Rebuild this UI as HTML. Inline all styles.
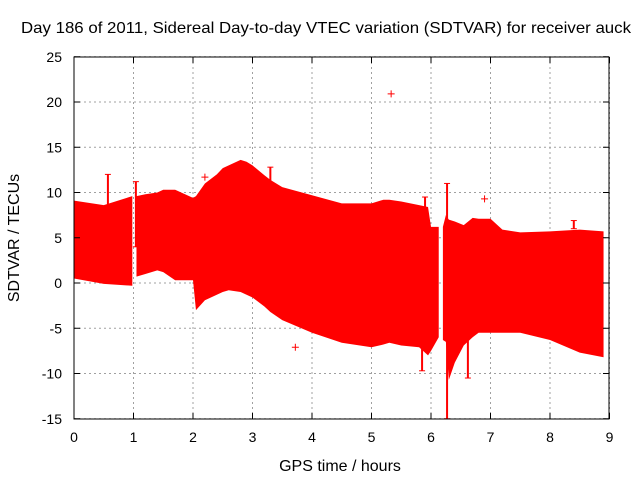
<!DOCTYPE html>
<html><head><meta charset="utf-8"><style>
body{margin:0;background:#fff}
svg text{font-family:"Liberation Sans",Arial,sans-serif;font-size:14px;fill:#000}
svg text.big{font-size:16px}
</style></head><body>
<svg id="c" width="640" height="480" xmlns="http://www.w3.org/2000/svg">
<text class="big" x="326" y="33" text-anchor="middle" textLength="610" lengthAdjust="spacingAndGlyphs">Day 186 of 2011, Sidereal Day-to-day VTEC variation (SDTVAR) for receiver auck</text>
<text class="big" x="340" y="471" text-anchor="middle">GPS time / hours</text>
<text class="big" transform="translate(19,238) rotate(-90)" text-anchor="middle">SDTVAR / TECUs</text>
<g id="grid"></g><g id="marks"></g><g id="axes"></g>
</svg>
<script>
const xTicks=[0,1,2,3,4,5,6,7,8,9];
const yTicks=[-15,-10,-5,0,5,10,15,20,25];
const seg1Times=[0,0.5,0.98];
const seg1Upper=[9.1,8.6,9.6];
const seg1Lower=[0.5,-0.1,-0.3];
const seg2Times=[1.05,1.2,1.4,1.5,1.7,2.0,2.05,2.2,2.4,2.5,2.6,2.8,2.9,3.0,3.2,3.3,3.5,4.0,4.5,5.0,5.2,5.3,5.5,5.8,5.95,6.0,6.13];
const seg2Upper=[9.6,9.8,10.0,10.3,10.3,9.4,9.6,11.0,12.0,12.7,13.0,13.6,13.4,13.0,11.9,11.4,10.6,9.7,8.8,8.8,9.2,9.2,9.0,8.6,8.4,6.2,6.2];
const seg2Lower=[0.7,1.0,1.4,1.2,0.3,0.3,-3.0,-1.9,-1.3,-1.0,-0.8,-1.0,-1.3,-1.6,-2.6,-3.2,-4.1,-5.5,-6.6,-7.1,-6.8,-6.6,-6.9,-7.1,-8.0,-7.5,-6.0];
const seg3Times=[6.2,6.25,6.3,6.4,6.55,6.7,6.8,7.0,7.2,7.5,8.0,8.5,8.9];
const seg3Upper=[6.2,7.5,7.0,6.8,6.4,7.2,7.1,7.1,5.9,5.6,5.7,5.9,5.7];
const seg3Lower=[-6.3,-6.5,-10.7,-8.8,-6.9,-6.0,-5.5,-5.5,-5.5,-5.5,-6.3,-7.7,-8.2];
const spikeTimes=[0.57,1.04,5.85,5.9,6.27,6.62,3.3,8.4];
const spikeLow=[5,4,-9.7,-7,-15,-10.5,10,6];
const spikeHigh=[12,11.2,6,9.5,11,0,12.8,6.9];
const ptTimes=[5.33,3.72,6.9,2.2];
const ptValues=[20.9,-7.1,9.3,11.7];
const X=t=>74+t*59.5, Y=v=>283-v*9.05;
const NS='http://www.w3.org/2000/svg';
function mk(tag,at,parent){const e=document.createElementNS(NS,tag);for(const k in at)e.setAttribute(k,at[k]);document.getElementById(parent).appendChild(e);return e;}
xTicks.forEach(t=>{
 const g=mk('line',{x1:X(t),x2:X(t),y1:57,y2:419,stroke:'#a0a0a0','stroke-dasharray':'2,3'},'grid');
 
 
 const tk=mk('text',{x:X(t),y:442,'text-anchor':'middle'},'axes');tk.textContent=t;
 
 
 mk('line',{x1:X(t),x2:X(t),y1:419,y2:413,stroke:'#000'},'axes');
 mk('line',{x1:X(t),x2:X(t),y1:57,y2:63,stroke:'#000'},'axes');
});
yTicks.forEach(v=>{
 const g=mk('line',{x1:74,x2:609,y1:Y(v),y2:Y(v),stroke:'#a0a0a0','stroke-dasharray':'2,3'},'grid');
 
 
 const tk=mk('text',{x:62,y:Y(v)+5,'text-anchor':'end'},'axes');tk.textContent=v;
 
 
 mk('line',{x1:74,x2:80,y1:Y(v),y2:Y(v),stroke:'#000'},'axes');
 mk('line',{x1:603,x2:609,y1:Y(v),y2:Y(v),stroke:'#000'},'axes');
});
const frame=mk('rect',{x:74,y:57,width:535,height:362,fill:'none',stroke:'#000'},'axes');


[[seg1Times,seg1Upper,seg1Lower],[seg2Times,seg2Upper,seg2Lower],[seg3Times,seg3Upper,seg3Lower]].forEach(([ts,up,lo])=>{
 const pts=ts.map((t,i)=>X(t)+','+Y(up[i])).concat(ts.map((t,i)=>X(t)+','+Y(lo[i])).reverse());
 const p=mk('polygon',{points:pts.join(' '),fill:'#ff0000'},'marks');
 
 
});
spikeTimes.forEach((t,i)=>{
 const l=mk('line',{x1:X(t),x2:X(t),y1:Y(spikeLow[i]),y2:Y(spikeHigh[i]),stroke:'#ff0000','stroke-width':2},'marks');
 
 
 mk('line',{x1:X(t)-3,x2:X(t)+3,y1:Y(spikeLow[i]),y2:Y(spikeLow[i]),stroke:'#ff0000'},'marks');
 mk('line',{x1:X(t)-3,x2:X(t)+3,y1:Y(spikeHigh[i]),y2:Y(spikeHigh[i]),stroke:'#ff0000'},'marks');
});
ptTimes.forEach((t,i)=>{
 const x=X(t),y=Y(ptValues[i]);
 const p=mk('path',{d:`M${x-3.5},${y}H${x+3.5}M${x},${y-3.5}V${y+3.5}`,stroke:'#ff0000','stroke-width':1},'marks');
 
 
});
</script>
</body></html>
